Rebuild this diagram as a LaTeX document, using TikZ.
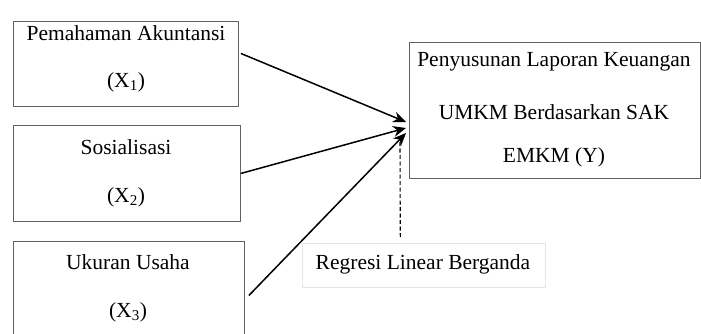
\documentclass[tikz,border=0pt]{standalone}
\usepackage{fontspec}
\setmainfont{Liberation Serif}
\usetikzlibrary{arrows.meta}
\begin{document}
\begin{tikzpicture}[x=1pt,y=-1pt,
  box/.style={draw=black!62,line width=0.9pt,inner sep=0pt,anchor=north west},
  lbl/.style={inner sep=0pt,font=\fontsize{21.5}{24}\selectfont,text=black},
  arr/.style={line width=1.5pt,-{Stealth[length=13pt,width=11pt]}}]
\useasboundingbox (0,0) rectangle (701,334);
\fill[white] (0,0) rectangle (701,334);
\node[box,minimum width=225pt,minimum height=85pt] (b1) at (13,21) {};
\node[box,minimum width=227pt,minimum height=96pt] (b2) at (13,125) {};
\node[box,minimum width=231pt,minimum height=110pt] (b3) at (13,241) {};
\node[box,minimum width=291pt,minimum height=136pt] (y) at (409,42) {};
\node[box,draw=black!10,line width=0.6pt,minimum width=243pt,minimum height=44pt] (r) at (302,243) {};
\node[lbl] (t1a) at (126,33) {Pemahaman Akuntansi};
\node[lbl] (t1b) at (126,82) {(X\textsubscript{1})};
\node[lbl] (t2a) at (126,147) {Sosialisasi};
\node[lbl] (t2b) at (126,197) {(X\textsubscript{2})};
\node[lbl] (t3a) at (128,262) {Ukuran Usaha};
\node[lbl] (t3b) at (128,312) {(X\textsubscript{3})};
\node[lbl] (ya) at (554,62) {Penyusunan Laporan Keuangan};
\node[lbl] (yb) at (554,112) {UMKM Berdasarkan SAK};
\node[lbl] (yc) at (554,157) {EMKM (Y)};
\node[lbl] (rt) at (423,264) {Regresi Linear Berganda};
\coordinate (p1) at (406,122);
\coordinate (p2) at (406,128);
\coordinate (p3) at (406,133);
\coordinate (dtop) at (400,139);
\draw[arr] ([xshift=2pt,yshift=10.5pt]b1.east) -- (p1);
\draw[arr] ([xshift=0pt]b2.east) -- (p2);
\draw[arr] ([xshift=4pt,yshift=1pt]b3.east) -- (p3);
\draw[line width=1.1pt,dash pattern=on 4pt off 2.5pt] ([xshift=-23.5pt,yshift=6pt]r.north) -- (dtop);
\end{tikzpicture}
\end{document}
